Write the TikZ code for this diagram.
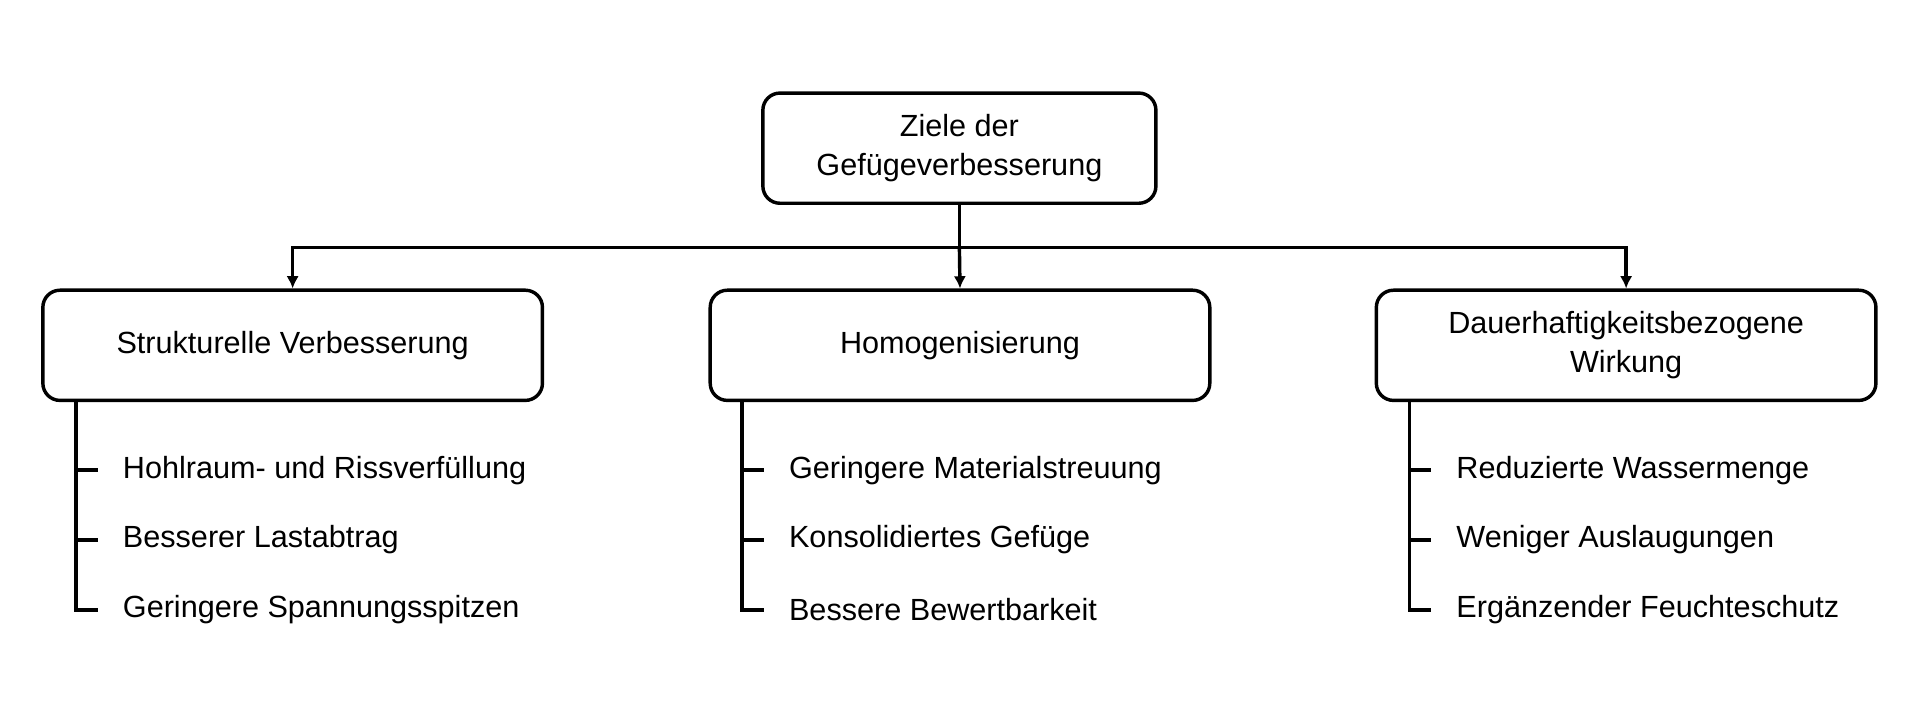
\documentclass[tikz,border=0pt]{standalone}
\usepackage{fontspec}
\setmainfont{Liberation Sans}
\begin{document}
\begin{tikzpicture}[x=0.5pt,y=-0.5pt,
  box/.style={draw,line width=1.4pt,rounded corners=7pt,align=center,font=\fontsize{12.5}{16}\selectfont},
  item/.style={anchor=west,inner sep=0pt,font=\fontsize{12.5}{16}\selectfont},
  ln/.style={line width=1.4pt},
  arr/.style={ln,-{Latex[length=5pt,width=5pt]}}]
\usetikzlibrary{arrows.meta}
\useasboundingbox (0,0) rectangle (1568,588);
\node[box,minimum width=160.5pt,minimum height=45pt] (top) at (783.5,121) {Ziele der\\Gefügeverbesserung};
\node[box,minimum width=204pt,minimum height=45pt] (a) at (239,282) {Strukturelle Verbesserung};
\node[box,minimum width=204pt,minimum height=45pt] (b) at (784,282) {Homogenisierung};
\node[box,minimum width=204pt,minimum height=45pt] (c) at (1328,282) {Dauerhaftigkeitsbezogene\\Wirkung};
\coordinate (j) at (783.5,202);
\draw[ln] (top.south) -- (j);
\draw[arr] (j) -| (a.north);
\draw[arr] (j) -- (b.north);
\draw[arr] (j) -| (c.north);
\foreach \n/\x/\ta/\tb/\tc in {a/62/Hohlraum- und Rissverfüllung/Besserer Lastabtrag/Geringere Spannungsspitzen,
  b/606/Geringere Materialstreuung/Konsolidiertes Gefüge/Bessere Bewertbarkeit,
  c/1151/Reduzierte Wassermenge/Weniger Auslaugungen/Ergänzender Feuchteschutz}{
  \coordinate (\n s) at (\x,327);
  \coordinate (\n e) at (\x,498);
  \draw[ln] (\n s) -- (\n e) -- ++(18,0);
  \draw[ln] (\x,384) -- ++(18,0);
  \draw[ln] (\x,441) -- ++(18,0);
  \node[item] (\n1) at (\x+38,384) {\ta};
  \node[item] (\n2) at (\x+38,441) {\tb};
  \node[item] (\n3) at (\x+38,498) {\tc};
}
\end{tikzpicture}
\end{document}
